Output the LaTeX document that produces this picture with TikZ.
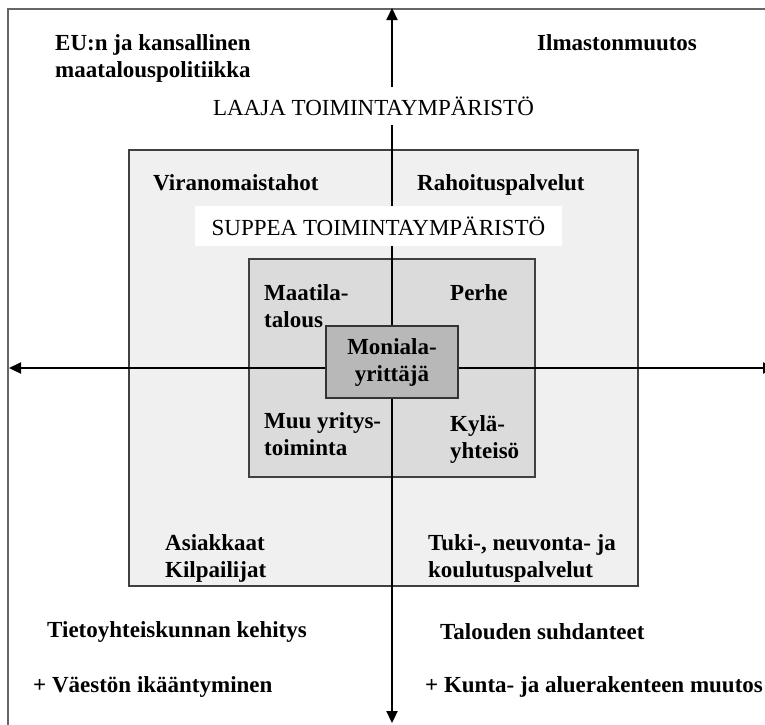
\documentclass[tikz,border=0pt]{standalone}
\usepackage{fontspec}
\setmainfont{Liberation Serif}
\usetikzlibrary{arrows.meta}
\definecolor{midgray}{gray}{0.94}
\definecolor{innergray}{gray}{0.86}
\definecolor{coregray}{gray}{0.72}
\tikzset{
  txt/.style={font=\fontsize{23}{27}\selectfont},
  lbl/.style={txt, anchor=west, align=left, inner sep=0pt, font=\fontsize{23}{27}\selectfont\bfseries},
  boxed/.style={draw=black!75, line width=1.3pt},
  axis/.style={line width=2.2pt, {Triangle[length=12pt,width=11pt]}-{Triangle[length=12pt,width=11pt]}}
}

\begin{document}
\begin{tikzpicture}[x=1pt,y=-1pt]
      \useasboundingbox (0,0) rectangle (765,724);
      \clip (0,0) rectangle (765,724);

      % frames
      \draw [black!60, line width=1.2pt] (8,9) rectangle (790,750);
      \node [boxed, fill=midgray, minimum width=509pt, minimum height=436pt] (mid) at (383.5,368) {};
      \node [boxed, fill=innergray, minimum width=286pt, minimum height=218pt] (inner) at (392,368) {};

      % axes
      \coordinate (up) at (392,8);
      \coordinate (down) at (392,723);
      \coordinate (lft) at (9,368);
      \coordinate (rgt) at (775,368);
      \draw [axis] (down) -- (up);
      \draw [axis] (lft) -- (rgt);

      \node [txt, fill=white, inner xsep=4pt, inner ysep=10pt] (laaja) at (373.5,106) {LAAJA TOIMINTAYMPÄRISTÖ};
      \node [txt, fill=white, inner sep=0pt, minimum width=367pt, minimum height=40pt] (suppea) at (378.5,226) {SUPPEA TOIMINTAYMPÄRISTÖ};

      \node [lbl] (eu) at (55,58.5) {EU:n ja kansallinen\\maatalouspolitiikka};
      \node [lbl] (ilmasto) at (537,43) {Ilmastonmuutos};
      \node [lbl] (viran) at (153,183) {Viranomaistahot};
      \node [lbl] (rahoitus) at (417,185) {Rahoituspalvelut};
      \node [lbl] (maatila) at (264,306.5) {Maatila-\\talous};
      \node [lbl] (perhe) at (450,293) {Perhe};
      \node [lbl] (muu) at (264,434.5) {Muu yritys-\\toiminta};
      \node [lbl] (kyla) at (450,439.5) {Kylä-\\yhteisö};
      \node [lbl] (asiakkaat) at (165,558.5) {Asiakkaat\\Kilpailijat};
      \node [lbl] (tuki) at (428,558.5) {Tuki-, neuvonta- ja\\koulutuspalvelut};
      \node [lbl] (tieto) at (47,632) {Tietoyhteiskunnan kehitys};
      \node [lbl] (suhdanteet) at (440,632) {Talouden suhdanteet};
      \node [lbl] (vaesto) at (33,687) {+ Väestön ikääntyminen};
      \node [lbl] (kunta) at (425,687) {+ Kunta- ja aluerakenteen muutos};

      \node [txt, draw=black!80, line width=2pt, fill=coregray, minimum width=132pt, minimum height=72pt,
        align=center, inner sep=0pt, font=\fontsize{23}{27}\selectfont\bfseries] (core) at (392,362) {Moniala-\\yrittäjä};

    \end{tikzpicture}
\end{document}
